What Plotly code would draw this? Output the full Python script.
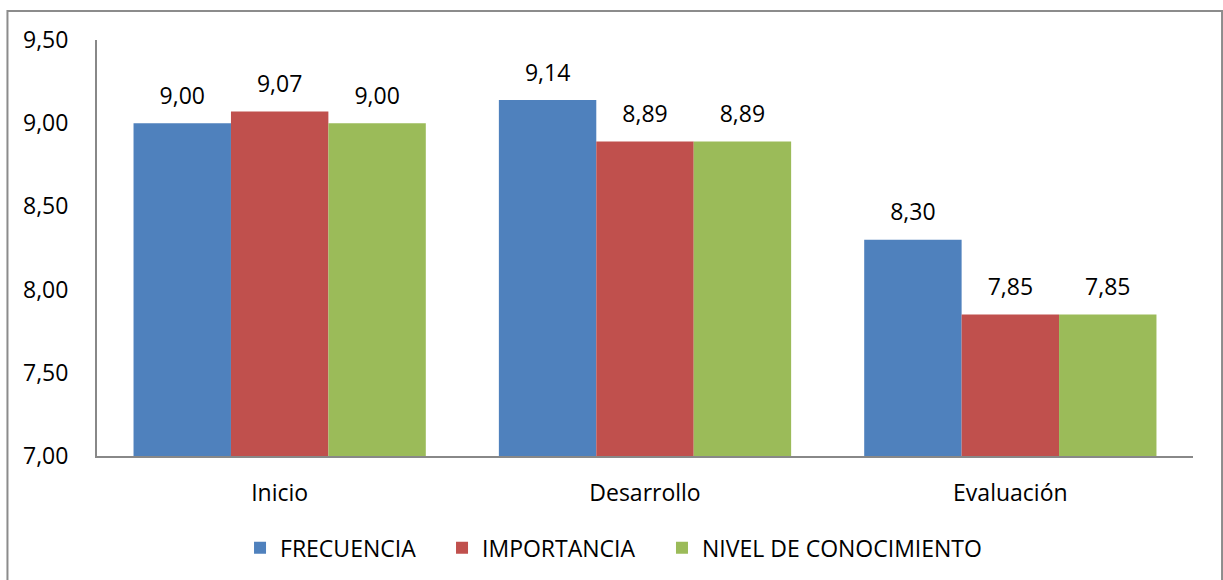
import plotly.graph_objects as go

categories = ["Inicio", "Desarrollo", "Evaluación"]
frecuencia = [9.00, 9.14, 8.30]
importancia = [9.07, 8.89, 7.85]
nivel = [9.00, 8.89, 7.85]
series_names = ["FRECUENCIA", "IMPORTANCIA", "NIVEL DE CONOCIMIENTO"]
colors = ["#4F81BD", "#C0504D", "#9BBB59"]
tick_vals = [7.0, 7.5, 8.0, 8.5, 9.0, 9.5]

FONT = "Open Sans"
FS = 23
legend_ids = ["legend", "legend2", "legend3"]
legend_x = [0.1305, 0.3148, 0.5155]

fig = go.Figure()
for i, (name, vals, col) in enumerate(zip(series_names, [frecuencia, importancia, nivel], colors)):
    fig.add_trace(go.Bar(
        x=categories, y=vals, name=name, offsetgroup=str(i), alignmentgroup="a",
        marker=dict(color=col, line=dict(width=0)), legend=legend_ids[i],
    ))
for i, vals in enumerate([frecuencia, importancia, nivel]):
    fig.add_trace(go.Scatter(
        x=categories, y=vals, offsetgroup=str(i), alignmentgroup="a",
        mode="markers+text", text=[f"{v:.2f}".replace(".", ",") for v in vals],
        textposition="top center",
        textfont=dict(family=FONT, size=FS, color="#000000"),
        marker=dict(size=20, color="rgba(0,0,0,0)"),
        showlegend=False, hoverinfo="skip", cliponaxis=False,
    ))

leg_common = dict(orientation="h", xanchor="left", y=-0.218, yanchor="middle",
                  font=dict(family=FONT, size=FS, color="#000000"),
                  itemwidth=30, bgcolor="rgba(0,0,0,0)")

fig.update_layout(
    width=1223, height=580,
    margin=dict(l=97, r=30, t=40, b=123),
    paper_bgcolor="white", plot_bgcolor="white",
    separators=",.",
    barmode="group", bargap=0.2, bargroupgap=0,
    scattermode="group",
    font=dict(family=FONT, size=FS, color="#000000"),
    showlegend=True,
    legend=dict(x=legend_x[0], **leg_common),
    legend2=dict(x=legend_x[1], **leg_common),
    legend3=dict(x=legend_x[2], **leg_common),
    xaxis=dict(showline=True, linecolor="#888888", linewidth=2, ticks="",
               ticklabelstandoff=15, showgrid=False),
    yaxis=dict(range=[7.0, 9.5], tickvals=tick_vals, tickformat=".2f",
               showline=True, linecolor="#888888", linewidth=2, ticks="",
               showgrid=False, zeroline=False, ticklabelstandoff=22),
    shapes=[dict(type="rect", xref="paper", yref="paper",
                 x0=-0.0817, x1=1.0265, y0=-0.35, y1=1.0695,
                 line=dict(color="#8C8C8C", width=2), fillcolor="rgba(0,0,0,0)",
                 layer="below")],
)

fig.write_html("out.html")
